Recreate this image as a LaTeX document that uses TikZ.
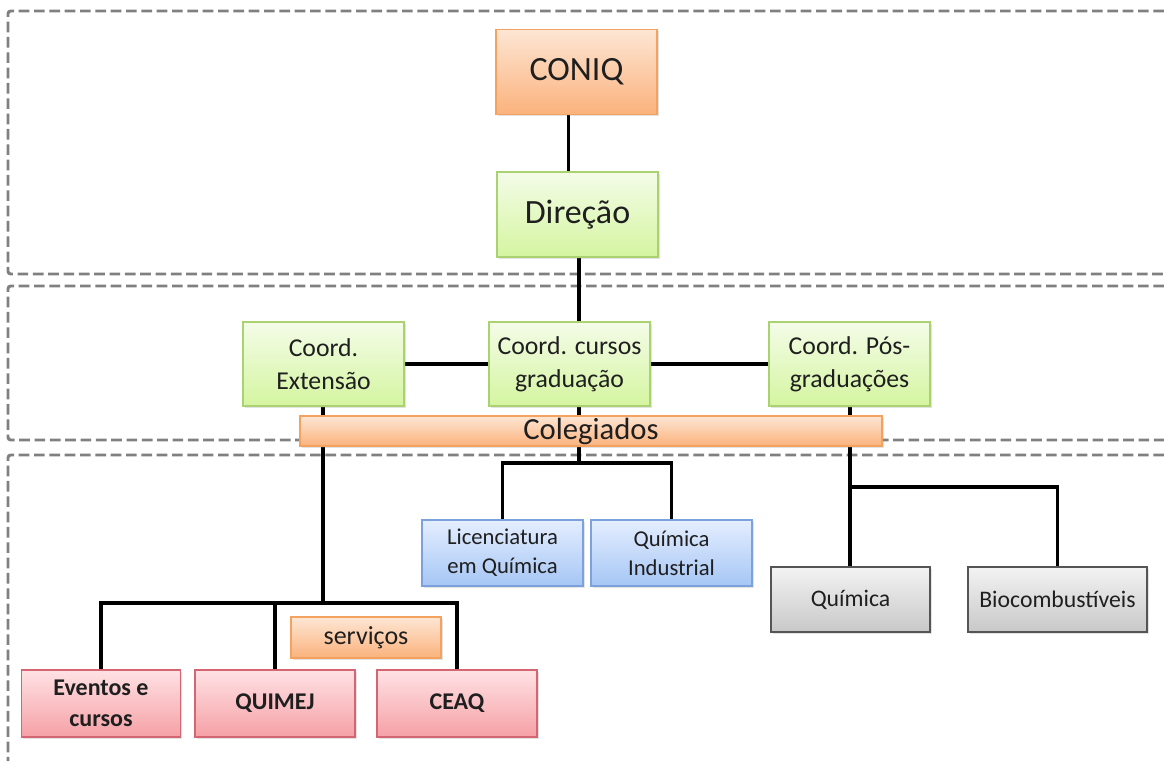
\documentclass[tikz,border=0pt]{standalone}
\usepackage{fontspec}
\setmainfont{Carlito}
\usetikzlibrary{positioning,calc,shadows}
\definecolor{orgtop}{RGB}{253,230,212}
\definecolor{orgbot}{RGB}{251,178,124}
\definecolor{orgline}{RGB}{244,162,96}
\definecolor{grntop}{RGB}{244,252,232}
\definecolor{grnbot}{RGB}{212,245,160}
\definecolor{grnline}{RGB}{170,210,112}
\definecolor{blutop}{RGB}{228,238,255}
\definecolor{blubot}{RGB}{166,198,245}
\definecolor{bluline}{RGB}{124,162,222}
\definecolor{grytop}{RGB}{243,243,243}
\definecolor{grybot}{RGB}{200,200,200}
\definecolor{gryline}{RGB}{85,85,85}
\definecolor{redtop}{RGB}{255,226,228}
\definecolor{redbot}{RGB}{245,160,166}
\definecolor{redline}{RGB}{212,102,116}
\definecolor{framegray}{RGB}{128,128,128}
\pgfdeclarelayer{frames}
\pgfdeclarelayer{links}
\pgfsetlayers{frames,links,main}
\newcommand{\bigfont}{\fontsize{25.5}{30}\selectfont}
\newcommand{\coordfont}{\fontsize{19.3}{24.5}\selectfont}
\newcommand{\colfont}{\fontsize{23}{24}\selectfont}
\newcommand{\cursofont}{\fontsize{17}{21.5}\selectfont}
\newcommand{\posfont}{\fontsize{17.8}{21}\selectfont}
\newcommand{\servfont}{\fontsize{19.5}{21}\selectfont}
\newcommand{\redfont}{\bfseries\fontsize{18}{23}\selectfont}
\tikzset{
  box/.style={draw, line width=0.8pt, inner sep=0pt, align=center, text=black!88,
    drop shadow={shadow xshift=1.2pt, shadow yshift=-1.2pt, opacity=0.22}},
  orgbox/.style={box, draw=orgline, top color=orgtop, bottom color=orgbot},
  grnbox/.style={box, draw=grnline, top color=grntop, bottom color=grnbot},
  blubox/.style={box, draw=bluline, top color=blutop, bottom color=blubot,
    minimum width=120.75pt, minimum height=49.5pt, font=\cursofont},
  grybox/.style={box, draw=gryline, top color=grytop, bottom color=grybot,
    minimum height=48.75pt, font=\posfont},
  redbox/.style={box, draw=redline, top color=redtop, bottom color=redbot,
    minimum width=119.25pt, minimum height=50.25pt, font=\redfont},
  coordbox/.style={grnbox, minimum width=120.75pt, minimum height=63pt, font=\coordfont},
  link/.style={line width=2.6pt, black},
  frame/.style={framegray, line width=2.2pt, dash pattern=on 8pt off 3.5pt, rounded corners=2pt},
}

\begin{document}
\begin{tikzpicture}[x=0.75pt,y=-0.75pt]
  \useasboundingbox (0,0) rectangle (1164,761);

  % top levels
  \node[orgbox, minimum width=120.75pt, minimum height=63.75pt, font=\bigfont] (coniq) at (576.5,72) {CONIQ};
  \node[grnbox, minimum width=120.75pt, minimum height=63.75pt, font=\bigfont] (direcao) at (577.5,214.5) {Direção};

  % coordinations
  \node[coordbox] (cext) at (323.5,364) {Coord.\\Extensão};
  \node[coordbox] (cgrad) at (569.5,364) {Coord. cursos\\graduação};
  \node[coordbox] (cpos) at (849.5,364) {Coord. Pós-\\graduações};
  \node[orgbox, minimum width=436.5pt, minimum height=22.5pt, font=\colfont] (coleg) at (591,431) {Colegiados};

  % courses
  \node[blubox] (licen) at (502.5,553) {Licenciatura\\em Química};
  \node[blubox] (quimind) at (671.5,553) {Química\\Industrial};
  \node[grybox, minimum width=119.25pt] (quimica) at (850.5,599.5) {Química};
  \node[grybox, minimum width=134.25pt] (bio) at (1057.5,599.5) {Biocombustíveis};

  % extension
  \node[orgbox, minimum width=112.5pt, minimum height=30.75pt, font=\servfont] (servicos) at (366,637.5) {serviços};
  \node[redbox] (eventos) at (101,703.5) {Eventos e\\cursos};
  \node[redbox, minimum width=120pt] (quimej) at (275,703.5) {QUIMEJ};
  \node[redbox, minimum width=120pt] (ceaq) at (457,703.5) {CEAQ};

  \coordinate (jgrad) at (579,463);
  \coordinate (jext) at (323,603);
  \coordinate (jpos) at (850,487);

  \begin{pgfonlayer}{links}
    \draw[link] ([xshift=-6pt]coniq.south) -- ([xshift=-6pt]coniq.south |- direcao.north);
    \draw[link] (direcao.south -| jgrad) -- (cgrad.north -| jgrad);
    \draw[link] (cext.east) -- (cgrad.west);
    \draw[link] (cgrad.east) -- (cpos.west);
    \draw[link] (cgrad.south -| jgrad) -- (jgrad);
    \draw[link] (licen.north) |- (jgrad) -| (quimind.north);
    \draw[link] (cext.south -| jext) -- (jext);
    \draw[link] (eventos.north) |- (jext) -| (ceaq.north);
    \draw[link] (quimej.north) -- (quimej.north |- jext);
    \draw[link] (cpos.south -| jpos) -- (quimica.north -| jpos);
    \draw[link] (jpos) -| (bio.north);
  \end{pgfonlayer}

  % dashed frames
  \begin{pgfonlayer}{frames}
    \draw[frame] (1164,11) -- (8,11) -- (8,274) -- (1164,274);
    \draw[frame] (1164,286) -- (8,286) -- (8,440) -- (1164,440);
    \draw[frame] (1164,455) -- (8,455) -- (8,761);
  \end{pgfonlayer}
\end{tikzpicture}
\end{document}
